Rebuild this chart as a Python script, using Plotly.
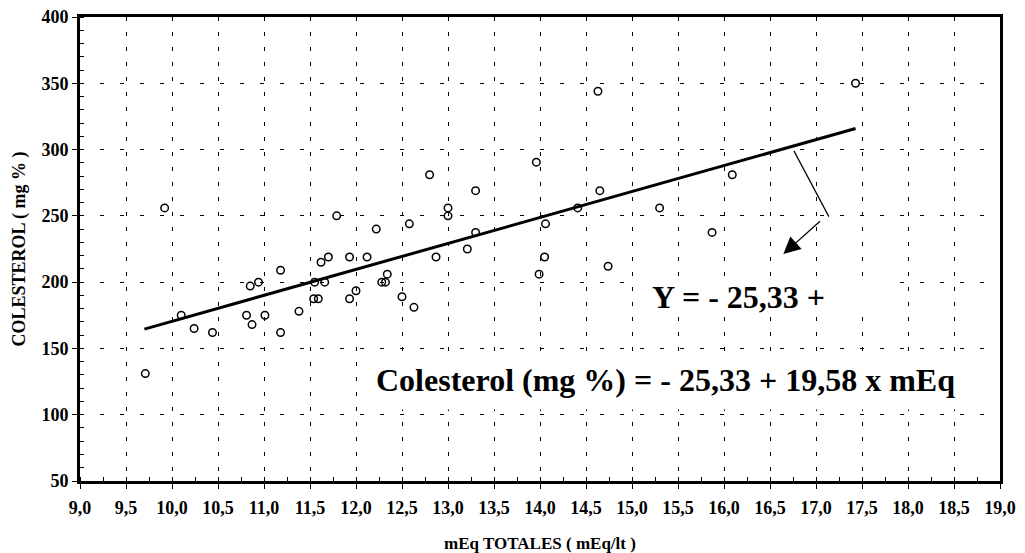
import plotly.graph_objects as go

# ---- data ----
MEQ = [9.71, 9.92, 10.10, 10.24, 10.44, 10.81, 10.85, 10.87, 10.94, 11.01,
       11.18, 11.18, 11.38, 11.55, 11.54, 11.59, 11.62, 11.66, 11.70, 11.79,
       11.93, 11.93, 12.00, 12.12, 12.22, 12.28, 12.32, 12.34, 12.50, 12.58,
       12.63, 12.80, 12.87, 13.00, 13.00, 13.96, 14.63, 13.30, 13.30, 13.21,
       14.06, 14.05, 13.99, 14.41, 14.65, 14.74, 15.30, 15.87, 16.09, 17.43]
COLESTEROL = [131, 256, 175, 165, 162, 175, 197, 168, 200, 175,
              209, 162, 178, 200, 187.5, 187.5, 215, 200, 219, 250,
              219, 187.5, 193.5, 219, 240, 200, 200, 206, 189, 244,
              181, 281, 219, 256, 250, 290.5, 344, 269, 237.5, 225,
              244, 219, 206, 256, 269, 212, 256, 237.5, 281, 350]

LINE_X = [9.70, 17.43]
LINE_Y = [164.6, 315.9]

X_TICKS = [9.0 + 0.5 * i for i in range(21)]
X_TICK_TEXT = ["<b>" + f"{v:.1f}".replace(".", ",") + "</b>" for v in X_TICKS]
Y_TICKS = [50, 100, 150, 200, 250, 300, 350, 400]
Y_TICK_TEXT = [f"<b>{v}</b>" for v in Y_TICKS]

EQ_SHORT = "Y = - 25,33 +"
EQ_LONG = "Colesterol (mg %) = - 25,33 + 19,58 x mEq"
X_TITLE = "mEq TOTALES ( mEq/lt )"
Y_TITLE = "COLESTEROL ( mg % )"

FONT = "Liberation Serif"

fig = go.Figure()

fig.add_trace(go.Scatter(
    x=LINE_X, y=LINE_Y, mode="lines",
    line=dict(color="black", width=3), hoverinfo="skip", showlegend=False))

fig.add_trace(go.Scatter(
    x=MEQ, y=COLESTEROL, mode="markers",
    marker=dict(symbol="circle-open", size=7.5, color="black",
                line=dict(width=1.5, color="black")),
    showlegend=False))

# white boxes behind equation texts (cover the grid)
fig.add_shape(type="rect", xref="x", yref="y", x0=15.07, x1=17.75, y0=175.5, y1=202.5,
              fillcolor="white", line=dict(width=0), layer="between")
fig.add_shape(type="rect", xref="x", yref="y", x0=12.15, x1=18.62, y0=104, y1=144.5,
              fillcolor="white", line=dict(width=0), layer="between")

# pointer line and arrow
fig.add_shape(type="line", xref="x", yref="y", x0=16.76, y0=299, x1=17.14, y1=249.4,
              line=dict(color="black", width=1.2), layer="above")
fig.add_annotation(x=16.645, y=221.2, ax=17.06, ay=246.9, xref="x", yref="y",
                   axref="x", ayref="y", text="", showarrow=True,
                   arrowhead=2, arrowsize=2.6, arrowwidth=1.3, arrowcolor="black")

fig.add_annotation(x=15.2, y=188.5, xref="x", yref="y", text=f"<b>{EQ_SHORT}</b>",
                   showarrow=False, xanchor="left", yanchor="middle",
                   font=dict(family=FONT, size=32, color="black"))
fig.add_annotation(x=12.2, y=126, xref="x", yref="y", text=f"<b>{EQ_LONG}</b>",
                   showarrow=False, xanchor="left", yanchor="middle",
                   font=dict(family=FONT, size=32, color="black"))

axis_common = dict(
    showline=True, linewidth=3, linecolor="black", mirror=True,
    showgrid=True, gridcolor="black", gridwidth=1, automargin=False,
    zeroline=False, ticks="outside", ticklen=5, tickwidth=1, tickcolor="black",
    tickfont=dict(family=FONT, size=18, color="black"),
)

fig.update_xaxes(
    range=[9, 19], tickvals=X_TICKS, ticktext=X_TICK_TEXT,
    griddash="4px,11px", ticklabelstandoff=3,
    minor=dict(ticks="inside", dtick=0.25, tick0=9, ticklen=4, tickcolor="black",
               showgrid=False),
    title=dict(text=f"<b>{X_TITLE}</b>", font=dict(family=FONT, size=17, color="black"),
               standoff=21),
    **axis_common)
fig.update_yaxes(
    range=[50, 400], tickvals=Y_TICKS, ticktext=Y_TICK_TEXT,
    griddash="4px,16px",
    minor=dict(ticks="inside", dtick=10, tick0=50, ticklen=4, tickcolor="black",
               showgrid=False),
    title=dict(text=f"<b>{Y_TITLE}</b>", font=dict(family=FONT, size=18, color="black"),
               standoff=12),
    **axis_common)

fig.update_layout(
    width=1025, height=553,
    margin=dict(l=80, r=25, t=17, b=72),
    paper_bgcolor="white", plot_bgcolor="white",
    showlegend=False,
)

fig.write_html("out.html")
